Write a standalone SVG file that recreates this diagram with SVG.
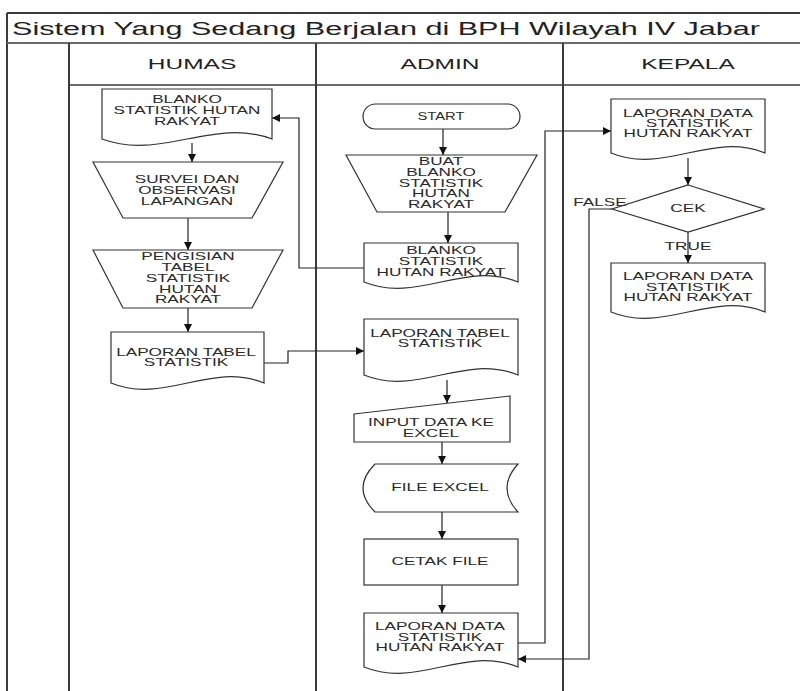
<svg xmlns="http://www.w3.org/2000/svg" width="800" height="691" viewBox="0 0 800 691">
<style>
.fr{stroke:#3a3a3a;stroke-width:2;fill:none}
.fr2{stroke:#6a6a6a;stroke-width:2;fill:none}
.n{fill:#fff;stroke:#333;stroke-width:1.2}
.c{fill:none;stroke:#222;stroke-width:1.2;marker-end:url(#ah)}
.t{font-family:"Liberation Sans",Arial,sans-serif;font-size:10px;fill:#2a2a2a;text-anchor:middle}
.h{font-family:"Liberation Sans",Arial,sans-serif;font-size:14px;fill:#222;text-anchor:middle}
</style>
<defs>
<marker id="ah" markerUnits="userSpaceOnUse" markerWidth="9" markerHeight="9" refX="8" refY="4" orient="auto">
<path d="M0,0 L8,4 L0,8 Z" fill="#111"/>
</marker>
</defs>
<rect width="800" height="691" fill="#fff"/>
<g id="frame">
<line class="fr" x1="7" y1="13" x2="800" y2="13"/>
<line class="fr" x1="7" y1="13" x2="7" y2="691"/>
<line class="fr2" x1="7" y1="43" x2="800" y2="43"/>
<line class="fr2" x1="69" y1="85" x2="800" y2="85"/>
<line class="fr" x1="69" y1="43" x2="69" y2="691"/>
<line class="fr" x1="316" y1="43" x2="316" y2="691"/>
<line class="fr" x1="563" y1="43" x2="563" y2="691"/>
<text x="12" y="35" font-family="Liberation Sans, Arial, sans-serif" font-size="18" fill="#222" textLength="748" lengthAdjust="spacingAndGlyphs">Sistem Yang Sedang Berjalan di BPH Wilayah IV Jabar</text>
<text class="h" transform="translate(192,69) scale(1.75,1)">HUMAS</text>
<text class="h" transform="translate(440,69) scale(1.75,1)">ADMIN</text>
<text class="h" transform="translate(688,69) scale(1.75,1)">KEPALA</text>
</g>
<g id="connectors">
<path class="c" d="M192,143 V162"/>
<path class="c" d="M188,218 V250"/>
<path class="c" d="M188,308 V332"/>
<path class="c" d="M364,268 H299 V118 H272"/>
<path class="c" d="M264,363 H288 V351 H364"/>
<path class="c" d="M443,129 V155"/>
<path class="c" d="M448,212 V243"/>
<path class="c" d="M447,380 V403"/>
<path class="c" d="M442,442 V464"/>
<path class="c" d="M442,512 V539"/>
<path class="c" d="M442,585 V613"/>
<path class="c" d="M518,643 H545 V131 H611"/>
<path class="c" d="M688,158 V185"/>
<path class="c" d="M688,232 V263"/>
<path class="c" d="M612,209 H589 V659 H518"/>
</g>
<g id="h_blanko">
<path class="n" d="M102,89 H272 V139 C212.5,117 161.5,161 102,139 Z"/>
<text class="t" transform="translate(187,0) scale(1.72,1)"><tspan x="0" y="103">BLANKO</tspan><tspan x="0" y="114">STATISTIK HUTAN</tspan><tspan x="0" y="125">RAKYAT</tspan></text>
</g>
<g id="h_survei">
<polygon class="n" points="93,162 283,162 252,218 123,218"/>
<text class="t" transform="translate(187,0) scale(1.72,1)"><tspan x="0" y="183">SURVEI DAN</tspan><tspan x="0" y="194">OBSERVASI</tspan><tspan x="0" y="205">LAPANGAN</tspan></text>
</g>
<g id="h_pengisian">
<polygon class="n" points="93,250 283,250 252,308 123,308"/>
<text class="t" transform="translate(188,0) scale(1.72,1)"><tspan x="0" y="260">PENGISIAN</tspan><tspan x="0" y="271">TABEL</tspan><tspan x="0" y="282">STATISTIK</tspan><tspan x="0" y="293">HUTAN</tspan><tspan x="0" y="303">RAKYAT</tspan></text>
</g>
<g id="h_laporan">
<path class="n" d="M111,332 H264 V383 C210.5,361 164.5,405 111,383 Z"/>
<text class="t" transform="translate(186,0) scale(1.72,1)"><tspan x="0" y="356">LAPORAN TABEL</tspan><tspan x="0" y="366">STATISTIK</tspan></text>
</g>
<g id="a_start">
<rect class="n" x="363" y="104" width="157" height="25" rx="12.5"/>
<text class="t" x="441" y="120" textLength="47" lengthAdjust="spacingAndGlyphs">START</text>
</g>
<g id="a_buat">
<polygon class="n" points="346,155 537,155 505,212 377,212"/>
<text class="t" transform="translate(441,0) scale(1.72,1)"><tspan x="0" y="165">BUAT</tspan><tspan x="0" y="176">BLANKO</tspan><tspan x="0" y="187">STATISTIK</tspan><tspan x="0" y="197">HUTAN</tspan><tspan x="0" y="208">RAKYAT</tspan></text>
</g>
<g id="a_blanko">
<path class="n" d="M364,243 H518 V282 C464,260 418,304 364,282 Z"/>
<text class="t" transform="translate(441,0) scale(1.72,1)"><tspan x="0" y="254">BLANKO</tspan><tspan x="0" y="265">STATISTIK</tspan><tspan x="0" y="276">HUTAN RAKYAT</tspan></text>
</g>
<g id="a_laporan_tabel">
<path class="n" d="M364,319 H518 V375 C464,353 418,397 364,375 Z"/>
<text class="t" transform="translate(440,0) scale(1.72,1)"><tspan x="0" y="337">LAPORAN TABEL</tspan><tspan x="0" y="347">STATISTIK</tspan></text>
</g>
<g id="a_input">
<polygon class="n" points="354,414 510,396 510,442 354,442"/>
<text class="t" transform="translate(431,0) scale(1.72,1)"><tspan x="0" y="426">INPUT DATA KE</tspan><tspan x="0" y="437">EXCEL</tspan></text>
</g>
<g id="a_file">
<path class="n" d="M375,464 H518 Q496,488 518,512 H375 Q351,488 375,464 Z"/>
<text class="t" transform="translate(440,0) scale(1.72,1)"><tspan x="0" y="491">FILE EXCEL</tspan></text>
</g>
<g id="a_cetak">
<rect class="n" x="364" y="539" width="154" height="46"/>
<text class="t" transform="translate(440,0) scale(1.72,1)"><tspan x="0" y="565">CETAK FILE</tspan></text>
</g>
<g id="a_laporan_data">
<path class="n" d="M364,613 H518 V667 C464,645 418,689 364,667 Z"/>
<text class="t" transform="translate(440,0) scale(1.72,1)"><tspan x="0" y="630">LAPORAN DATA</tspan><tspan x="0" y="641">STATISTIK</tspan><tspan x="0" y="651">HUTAN RAKYAT</tspan></text>
</g>
<g id="k_laporan1">
<path class="n" d="M611,99 H765 V153 C711,131 665,175 611,153 Z"/>
<text class="t" transform="translate(688,0) scale(1.72,1)"><tspan x="0" y="117">LAPORAN DATA</tspan><tspan x="0" y="127">STATISTIK</tspan><tspan x="0" y="137">HUTAN RAKYAT</tspan></text>
</g>
<g id="k_cek">
<polygon class="n" points="688,185 764,209 688,232 612,209"/>
<text class="t" transform="translate(688,0) scale(1.72,1)"><tspan x="0" y="212">CEK</tspan></text>
</g>
<g id="k_laporan2">
<path class="n" d="M611,263 H765 V312 C711,290 665,334 611,312 Z"/>
<text class="t" transform="translate(688,0) scale(1.72,1)"><tspan x="0" y="280">LAPORAN DATA</tspan><tspan x="0" y="291">STATISTIK</tspan><tspan x="0" y="301">HUTAN RAKYAT</tspan></text>
</g>
<g id="labels">
<text class="t" transform="translate(600,0) scale(1.72,1)"><tspan x="0" y="206">FALSE</tspan></text>
<text class="t" transform="translate(688,0) scale(1.72,1)"><tspan x="0" y="250">TRUE</tspan></text>
</g>
</svg>
